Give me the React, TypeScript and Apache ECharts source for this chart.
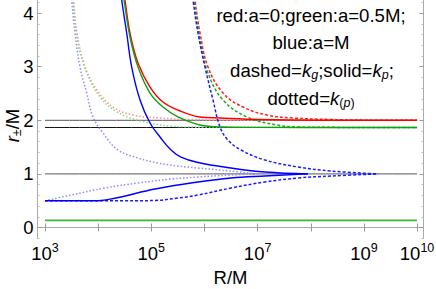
import React, { useEffect, useRef } from "react";
import * as echarts from "echarts";

// x values are log10(R/M), y values are r±/M
const xTickExponents = [3, 4, 5, 6, 7, 8, 9, 10];
const xLabelExponents = [3, 5, 7, 9, 10];
const yTickLabels = [0, 1, 2, 3, 4];
const yMinorTicks = [-0.2, 0.2, 0.4, 0.6, 0.8, 1.2, 1.4, 1.6, 1.8, 2.2, 2.4, 2.6, 2.8, 3.2, 3.4, 3.6, 3.8, 4.2];

const refLine2 = [[3, 2], [10, 2]];
const refLine1866 = [[3, 1.866], [10, 1.866]];
const refLine1 = [[3, 1], [10, 1]];
const greenLow = [[3, 0.134], [10, 0.134]];

const redSolid = [[4.48, 4.4], [4.505, 4.244], [4.599, 3.629], [4.75, 3.069], [4.976, 2.621], [5.22, 2.341], [5.502, 2.192], [5.916, 2.062], [6.293, 2.043], [7.045, 2.015], [8.17, 2.002], [10, 2.0]];
const greenSolid = [[4.46, 4.4], [4.486, 4.244], [4.599, 3.554], [4.75, 2.994], [4.976, 2.509], [5.22, 2.248], [5.502, 2.062], [5.916, 1.912], [6.349, 1.875], [7.0, 1.868], [10, 1.866]];
const blueSolidUpper = [[4.43, 4.4], [4.443, 4.244], [4.537, 3.629], [4.631, 2.994], [4.788, 2.379], [4.976, 1.95], [5.164, 1.688], [5.371, 1.446], [5.559, 1.315], [5.879, 1.213], [6.5, 1.11], [7.139, 1.035], [7.948, 1.0]];
const blueSolidLower = [[3, 0.5], [3.997, 0.5], [4.2, 0.525], [4.43, 0.569], [5.07, 0.718], [5.879, 0.849], [6.5, 0.924], [7.139, 0.961], [7.948, 1.0]];

const redDotted = [[3.52, 4.4], [3.537, 4.244], [3.602, 3.629], [3.753, 2.994], [3.978, 2.565], [4.279, 2.248], [4.656, 2.099], [5.164, 2.043], [5.728, 2.015], [6.5, 2.003], [10, 2.0]];
const greenDotted = [[3.51, 4.4], [3.527, 4.244], [3.621, 3.442], [3.79, 2.882], [4.035, 2.435], [4.355, 2.155], [4.731, 2.006], [5.352, 1.894], [6.0, 1.872], [10, 1.866]];
const blueDottedUpper = [[3.49, 4.4], [3.502, 4.244], [3.564, 3.629], [3.659, 2.994], [3.785, 2.509], [3.903, 2.062], [4.091, 1.763], [4.373, 1.446], [4.75, 1.297], [5.126, 1.203], [5.502, 1.147], [5.879, 1.11], [6.481, 1.054], [6.951, 1.0]];
const blueDottedLower = [[3, 0.5], [3.489, 0.606], [4.129, 0.737], [4.75, 0.83], [5.371, 0.905], [5.879, 0.942], [6.481, 0.979], [6.951, 1.0]];

const redDashed = [[5.81, 4.4], [5.822, 4.244], [5.916, 3.629], [6.067, 2.994], [6.349, 2.509], [6.725, 2.248], [7.177, 2.099], [7.666, 2.043], [8.362, 2.015], [9.0, 2.003], [10, 2.0]];
const greenDashed = [[5.79, 4.4], [5.803, 4.244], [5.916, 3.498], [6.067, 2.882], [6.349, 2.379], [6.801, 2.062], [7.365, 1.912], [7.741, 1.875], [8.5, 1.868], [10, 1.866]];
const blueDashedUpper = [[5.775, 4.4], [5.785, 4.244], [5.879, 3.629], [6.01, 2.994], [6.161, 2.379], [6.293, 1.875], [6.443, 1.632], [6.688, 1.446], [7.139, 1.259], [7.76, 1.129], [8.381, 1.054], [9.265, 1.0]];
const blueDashedLower = [[3, 0.5], [4.7, 0.5], [5.07, 0.505], [5.502, 0.55], [5.879, 0.606], [6.5, 0.737], [7.139, 0.849], [7.76, 0.923], [8.381, 0.961], [9.265, 1.0]];

const FONT = '"Liberation Sans", Arial, sans-serif';

function lineSeries(data: number[][], color: string, type: any, width: number, z: number) {
  return {
    type: "line",
    data,
    showSymbol: false,
    smooth: 0.4,
    z,
    lineStyle: { color, type, width },
    silent: true,
  };
}

export default function App() {
  const ref = useRef<HTMLDivElement>(null);
  useEffect(() => {
    if (!ref.current) return;
    const chart = echarts.init(ref.current, null, { renderer: "svg" });
    const frame = { show: true, lineStyle: { color: "#aaaaaa", width: 1 } };
    const xMin = 2.859, xMax = 10.121, yMin = -0.205, yMax = 4.235;
    const dotted = [1.5, 2];
    const dashed = [3, 2];
    chart.setOption({
      animation: false,
      grid: { left: 37.5, right: 12.5, top: 0.5, bottom: 50.5, containLabel: false, outerBoundsMode: "none" },
      xAxis: [
        {
          type: "value", min: xMin, max: xMax, position: "bottom",
          axisLine: frame,
          axisTick: { show: true, inside: true, length: 4, customValues: xTickExponents, lineStyle: { color: "#999" } },
          splitLine: { show: false },
          axisLabel: {
            customValues: xLabelExponents, margin: 3,
            formatter: (v: number) => `{b|10}{s|${Math.round(v)}}`,
            rich: {
              b: { fontSize: 18.5, fontFamily: FONT, color: "#000" },
              s: { fontSize: 12.5, fontFamily: FONT, color: "#000", padding: [0, 0, 11, 0] },
            },
          },
          name: "R/M", nameLocation: "middle", nameGap: 29,
          nameTextStyle: { fontSize: 18.5, fontFamily: FONT, color: "#000", lineHeight: 19 },
        },
        {
          type: "value", min: xMin, max: xMax, position: "top",
          axisLine: frame,
          axisTick: { show: true, inside: true, length: 4, customValues: xTickExponents, lineStyle: { color: "#999" } },
          splitLine: { show: false }, axisLabel: { show: false },
        },
      ],
      yAxis: [
        {
          type: "value", min: yMin, max: yMax, position: "left",
          axisLine: frame,
          axisTick: { show: true, inside: true, length: 4, customValues: yTickLabels, lineStyle: { color: "#999" } },
          splitLine: { show: false },
          axisLabel: { customValues: yTickLabels, margin: 4, fontSize: 18.5, fontFamily: FONT, color: "#000" },
          name: "{i|r}{s|±}{n|/M}", nameLocation: "middle", nameGap: 14, nameRotate: 90,
          nameMoveOverlap: false,
          nameTextStyle: {
            fontSize: 18.5, fontFamily: FONT, color: "#000",
            padding: [0, 12, 0, 0],
            rich: {
              i: { fontSize: 18.5, fontFamily: FONT, fontStyle: "italic", color: "#000" },
              s: { fontSize: 12.5, fontFamily: FONT, color: "#000", padding: [9, 0, 0, 0] },
              n: { fontSize: 18.5, fontFamily: FONT, color: "#000" },
            },
          },
        },
        {
          type: "value", min: yMin, max: yMax, position: "left",
          axisLine: { show: false },
          axisTick: { show: true, inside: true, length: 2, customValues: yMinorTicks, lineStyle: { color: "#bbb" } },
          splitLine: { show: false }, axisLabel: { show: false },
        },
        {
          type: "value", min: yMin, max: yMax, position: "right",
          axisLine: frame,
          axisTick: { show: true, inside: true, length: 4, customValues: yTickLabels, lineStyle: { color: "#999" } },
          splitLine: { show: false }, axisLabel: { show: false },
        },
        {
          type: "value", min: yMin, max: yMax, position: "right",
          axisLine: { show: false },
          axisTick: { show: true, inside: true, length: 2, customValues: yMinorTicks, lineStyle: { color: "#bbb" } },
          splitLine: { show: false }, axisLabel: { show: false },
        },
      ],
      series: [
        lineSeries(refLine2, "#555555", "solid", 1, 1),
        lineSeries(refLine1866, "#111111", "solid", 1, 1),
        lineSeries(refLine1, "#555555", "solid", 1, 1),
        lineSeries(greenLow, "#3cb83c", "solid", 1.6, 2),
        lineSeries(redDotted, "#ff9090", dotted, 1.5, 3),
        lineSeries(greenDotted, "#88d888", dotted, 1.5, 3),
        lineSeries(blueDottedUpper, "#8c8cff", dotted, 1.5, 3),
        lineSeries(blueDottedLower, "#8c8cff", dotted, 1.5, 3),
        lineSeries(redDashed, "#ff2020", dashed, 1.5, 4),
        lineSeries(greenDashed, "#18b018", dashed, 1.5, 4),
        lineSeries(blueDashedUpper, "#1a1aff", dashed, 1.5, 4),
        lineSeries(blueDashedLower, "#1a1aff", dashed, 1.5, 4),
        lineSeries(redSolid, "#ff0000", "solid", 1.4, 5),
        lineSeries(greenSolid, "#10a010", "solid", 1.4, 5),
        lineSeries(blueSolidUpper, "#0000ff", "solid", 1.4, 5),
        lineSeries(blueSolidLower, "#0000ff", "solid", 1.4, 5),
      ],
      graphic: [
        {
          type: "text", x: 311, y: 15, z: 10,
          style: { text: "red:a=0;green:a=0.5M;", fontSize: 18.6, fontFamily: FONT, fill: "#000", align: "center", verticalAlign: "middle" },
        },
        {
          type: "text", x: 311, y: 42, z: 10,
          style: { text: "blue:a=M", fontSize: 18.6, fontFamily: FONT, fill: "#000", align: "center", verticalAlign: "middle" },
        },
        {
          type: "text", x: 312, y: 70, z: 10,
          style: {
            text: "{n|dashed=}{i|k}{si|g}{n|;solid=}{i|k}{si|p}{n|;}",
            align: "center", verticalAlign: "middle",
            rich: {
              n: { fontSize: 18.6, fontFamily: FONT, fill: "#000" },
              i: { fontSize: 18.6, fontFamily: FONT, fontStyle: "italic", fill: "#000" },
              si: { fontSize: 12.5, fontFamily: FONT, fontStyle: "italic", fill: "#000", padding: [9, 0, 0, 0] },
            },
          },
        },
        {
          type: "text", x: 311, y: 98, z: 10,
          style: {
            text: "{n|dotted=}{i|k}{s|(}{si|p}{s|)}",
            align: "center", verticalAlign: "middle",
            rich: {
              n: { fontSize: 18.6, fontFamily: FONT, fill: "#000" },
              i: { fontSize: 18.6, fontFamily: FONT, fontStyle: "italic", fill: "#000" },
              s: { fontSize: 12.5, fontFamily: FONT, fill: "#000", padding: [9, 0, 0, 0] },
              si: { fontSize: 12.5, fontFamily: FONT, fontStyle: "italic", fill: "#000", padding: [9, 0, 0, 0] },
            },
          },
        },
      ],
    });
    return () => chart.dispose();
  }, []);
  return <div ref={ref} style={{ width: 436, height: 289, position: "absolute", left: 0, top: 0 }} />;
}
